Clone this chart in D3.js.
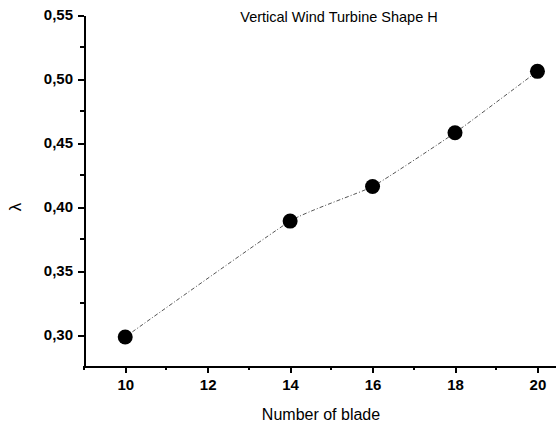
<!DOCTYPE html>
<html>
<head>
<meta charset="utf-8">
<title>Vertical Wind Turbine Shape H</title>
<script src="https://cdn.jsdelivr.net/npm/d3@7"></script>
<style>
	body { margin: 0; background: #fff; }
	.axis path, .axis line { fill: none; stroke: #000; stroke-width: 2; shape-rendering: crispEdges; }
	.axis text { font-family: Arial, "Liberation Sans", sans-serif; font-size: 15px; font-weight: bold; fill: #000; }
</style>
</head>
<body>
<script>
	var blades = [10, 14, 16, 18, 20];
	var lambda = [0.2985, 0.389, 0.416, 0.458, 0.506];
	var xTicks = [10, 12, 14, 16, 18, 20];
	var xMinor = [9, 11, 13, 15, 17, 19];
	var yTicks = [0.30, 0.35, 0.40, 0.45, 0.50, 0.55];
	var yMinor = [0.325, 0.375, 0.425, 0.475, 0.525];

	var width = 556, height = 428;
	var padL = 84, padR = 556, padT = 15, padB = 366;

	var svg = d3.select("body").append("svg")
		.attr("width", width)
		.attr("height", height);

	var x = d3.scaleLinear().domain([9, 20.45]).range([padL, padR]);
	var y = d3.scaleLinear().domain([0.2758, 0.55]).range([padB, padT]);

	var fmt = function (d) { return d3.format(".2f")(d).replace(".", ","); };

	var xAxis = svg.append("g").attr("class", "axis")
		.attr("transform", "translate(0," + padB + ")")
		.call(d3.axisBottom(x).tickValues(xTicks).tickSize(7).tickPadding(6).tickSizeOuter(0));
	xAxis.selectAll(".minor").data(xMinor).enter().append("line")
		.attr("class", "minor")
		.attr("x1", function (d) { return x(d); }).attr("x2", function (d) { return x(d); })
		.attr("y1", 0).attr("y2", 4);

	var yAxis = svg.append("g").attr("class", "axis")
		.attr("transform", "translate(" + padL + ",0)")
		.call(d3.axisLeft(y).tickValues(yTicks).tickFormat(fmt).tickSize(6).tickPadding(5).tickSizeOuter(0));
	yAxis.selectAll(".minor").data(yMinor).enter().append("line")
		.attr("class", "minor")
		.attr("y1", function (d) { return y(d); }).attr("y2", function (d) { return y(d); })
		.attr("x1", 0).attr("x2", -4);

	var pts = blades.map(function (b, i) { return [b, lambda[i]]; });

	// dash-dot connecting curve
	svg.append("path")
		.datum(pts)
		.attr("fill", "none")
		.attr("stroke", "#555")
		.attr("stroke-width", 1)
		.attr("stroke-dasharray", "4,2,1,2")
		.attr("d", d3.line()
			.curve(d3.curveCardinal.tension(0.6))
			.x(function (d) { return x(d[0]); })
			.y(function (d) { return y(d[1]); }));

	svg.selectAll(".dot").data(pts).enter().append("circle")
		.attr("class", "dot")
		.attr("cx", function (d) { return x(d[0]); })
		.attr("cy", function (d) { return y(d[1]); })
		.attr("r", 7.5)
		.attr("fill", "#000");

	svg.append("text")
		.attr("x", 339).attr("y", 22)
		.attr("text-anchor", "middle")
		.attr("font-family", "Arial, 'Liberation Sans', sans-serif")
		.attr("font-size", "14.5px")
		.text("Vertical Wind Turbine Shape H");

	svg.append("text")
		.attr("x", 321).attr("y", 420)
		.attr("text-anchor", "middle")
		.attr("font-family", "Arial, 'Liberation Sans', sans-serif")
		.attr("font-size", "16px")
		.text("Number of blade");

	svg.append("text")
		.attr("transform", "translate(21,207) rotate(-90)")
		.attr("text-anchor", "middle")
		.attr("font-family", "Arial, 'Liberation Sans', sans-serif")
		.attr("font-size", "17px")
		.text("λ");
</script>
</body>
</html>
